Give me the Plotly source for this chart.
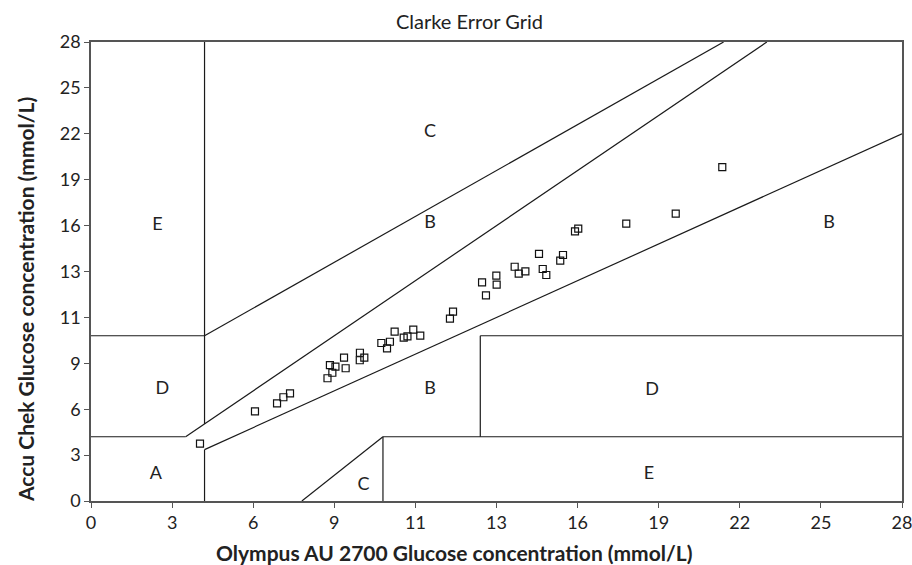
import plotly.graph_objects as go

# Axis runs on a 0-500 internal scale (mg/dL); tick labels are shown as printed (mmol/L)
tick_vals = [0, 50, 100, 150, 200, 250, 300, 350, 400, 450, 500]
tick_text = ["0", "3", "6", "9", "11", "13", "16", "19", "22", "25", "28"]

# Data points (reference Olympus AU 2700 vs Accu Chek), in axis units
olympus = [67.2, 101.1, 114.7, 118.6, 122.7, 145.8, 148.8, 147.3, 150.7, 157.0,
           156.0, 165.8, 168.5, 165.7, 179.0, 182.5, 184.3, 187.2, 192.8, 195.1,
           198.7, 203.0, 221.3, 223.2, 241.1, 243.5, 249.9, 250.1, 261.2, 263.7,
           267.8, 276.2, 278.5, 280.7, 289.3, 291.0, 298.4, 300.4, 330.0, 360.5,
           389.2]
accu_chek = [62.4, 97.7, 106.4, 113.0, 117.3, 133.7, 139.7, 148.1, 146.3, 144.6,
             156.1, 161.5, 156.1, 153.3, 172.1, 166.3, 173.5, 184.4, 177.9, 179.4,
             186.6, 180.1, 198.6, 206.2, 238.2, 224.1, 245.4, 235.6, 255.2, 247.6,
             250.2, 269.1, 252.7, 246.2, 261.8, 268.0, 293.8, 296.6, 302.1, 313.0,
             363.8]

# Clarke error grid zone boundaries (segments: x0, x1, y0, y1)
grid_segments = [
    (0, 175 / 3, 70, 70),
    (175 / 3, 500 / 1.2, 70, 500),
    (70, 70, 84, 500),
    (0, 70, 180, 180),
    (70, 390, 180, 500),
    (70, 70, 0, 56),
    (70, 500, 56, 400),
    (180, 180, 0, 70),
    (180, 500, 70, 70),
    (240, 240, 70, 180),
    (240, 500, 180, 180),
    (130, 180, 0, 70),
]

zone_labels = ["E", "C", "B", "B", "D", "A", "B", "C", "D", "E"]
zone_x = [41, 209, 209, 455, 44, 40, 209, 168, 346, 344]
zone_y = [300, 401, 302, 302, 122, 29, 122, 17, 120, 29]

FONT = "Lato"
W, H = 912, 565
PL, PR, PT, PB = 91, 902, 42, 501   # plot area in window pixels

gx, gy = [], []
for x0, x1, y0, y1 in grid_segments:
    gx += [x0, x1, None]
    gy += [y0, y1, None]

fig = go.Figure()
fig.add_trace(go.Scatter(x=gx, y=gy, mode="lines",
                         line=dict(color="#1a1a1a", width=1.2),
                         hoverinfo="skip", showlegend=False))
fig.add_trace(go.Scatter(x=zone_x, y=zone_y, mode="text", text=zone_labels,
                         textposition="middle center",
                         textfont=dict(family=FONT, size=18, color="#222"),
                         hoverinfo="skip", showlegend=False))
fig.add_trace(go.Scatter(x=olympus, y=accu_chek, mode="markers",
                         marker=dict(symbol="square-open", size=7,
                                     color="#111", line=dict(width=1.2)),
                         showlegend=False))

axis_common = dict(range=[0, 500], showgrid=False, zeroline=False, automargin=False,
                   showline=True, linecolor="#555", linewidth=1.5, mirror=True,
                   ticks="outside", ticklen=5, tickcolor="#555", tickwidth=1.2,
                   tickvals=tick_vals, ticktext=tick_text, ticklabeloverflow="allow",
                   tickfont=dict(family=FONT, size=18, color="#222"))

pw, ph = PR - PL, PB - PT

fig.update_layout(
    width=W, height=H,
    margin=dict(l=PL, r=W - PR, t=PT, b=H - PB),
    plot_bgcolor="white", paper_bgcolor="white",
    xaxis=dict(**axis_common),
    yaxis=dict(**axis_common),
    title=dict(text="Clarke Error Grid", x=469.5 / W, xanchor="center",
               y=1 - 22 / H, yanchor="middle",
               font=dict(family=FONT, size=20, color="#222")),
    annotations=[
        dict(text="<b>Olympus AU 2700 Glucose concentration (mmol/L)</b>",
             xref="paper", yref="paper", x=(454 - PL) / pw, y=(PB - 552) / ph,
             xanchor="center", yanchor="middle", showarrow=False,
             font=dict(family=FONT, size=21, color="#222")),
        dict(text="<b>Accu Chek Glucose concentration (mmol/L)</b>",
             xref="paper", yref="paper", x=(25 - PL) / pw, y=(PB - 300) / ph,
             xanchor="center", yanchor="middle", showarrow=False, textangle=-90,
             font=dict(family=FONT, size=21, color="#222")),
    ],
)

fig.write_html(
    "out.html",
    config={"displayModeBar": False},
    post_script="document.body.style.margin='0';document.body.style.overflow='hidden';",
)
